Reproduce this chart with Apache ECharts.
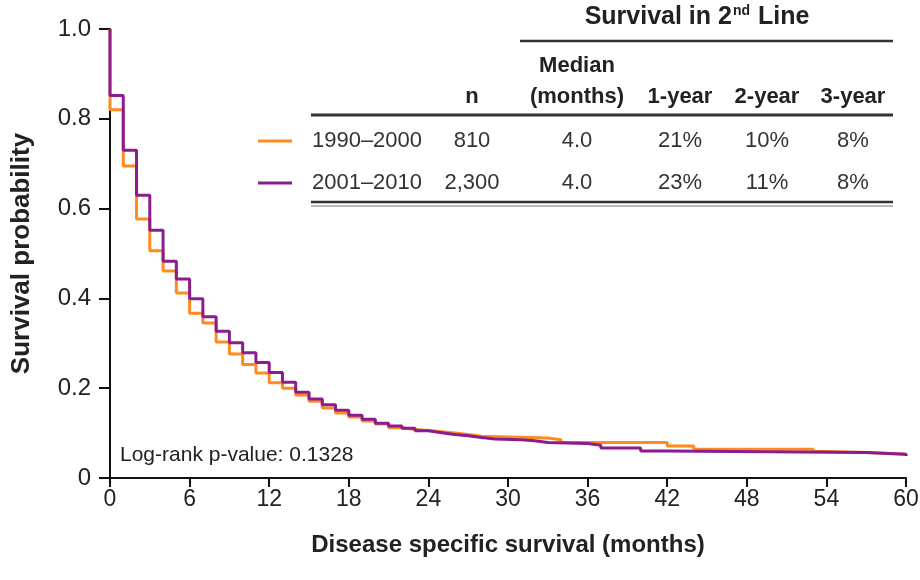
<!DOCTYPE html>
<html>
<head>
<meta charset="utf-8">
<script src="https://cdn.jsdelivr.net/npm/echarts@6/dist/echarts.min.js"></script>
<style>
  html, body { margin: 0; padding: 0; background: #fff; }
  #chart { width: 920px; height: 580px; }
</style>
</head>
<body>
<div id="chart"></div>
<script>
// Kaplan–Meier estimates, disease specific survival by period of diagnosis
const months1990 = [0, 0, 1, 2, 3, 4, 5, 6, 7, 8, 9, 10, 11, 12, 13, 14, 15, 16, 17, 18, 19, 20, 21, 22, 23, 24, 25, 26, 27, 28, 33, 34, 42, 44, 53, 54, 57, 60];
const surv1990   = [1.0, 0.82, 0.695, 0.577, 0.506, 0.461, 0.412, 0.367, 0.345, 0.303, 0.276, 0.253, 0.234, 0.212, 0.2, 0.185, 0.171, 0.156, 0.145, 0.136, 0.127, 0.12, 0.112, 0.108, 0.106, 0.103, 0.1, 0.097, 0.093, 0.089, 0.085, 0.079, 0.071, 0.064, 0.059, 0.057, 0.053, 0.049];

const months2001 = [0, 0, 1, 2, 3, 4, 5, 6, 7, 8, 9, 10, 11, 12, 13, 14, 15, 16, 17, 18, 19, 20, 21, 22, 23, 24, 25, 26, 27, 28, 29, 31, 32, 33, 36, 37, 40, 42, 57, 60];
const surv2001   = [1.0, 0.852, 0.73, 0.63, 0.552, 0.483, 0.443, 0.399, 0.359, 0.327, 0.301, 0.279, 0.257, 0.235, 0.213, 0.191, 0.176, 0.163, 0.151, 0.14, 0.131, 0.122, 0.116, 0.111, 0.105, 0.101, 0.097, 0.094, 0.09, 0.087, 0.085, 0.083, 0.079, 0.077, 0.073, 0.067, 0.06, 0.057, 0.053, 0.049];

const xTicks = [0, 6, 12, 18, 24, 30, 36, 42, 48, 54, 60];
const yTicks = [0, 0.2, 0.4, 0.6, 0.8, 1.0];

// Summary table
const periods     = ['1990–2000', '2001–2010'];
const nPatients   = ['810', '2,300'];
const medians     = ['4.0', '4.0'];
const oneYear     = ['21%', '23%'];
const twoYear     = ['10%', '11%'];
const threeYear   = ['8%', '8%'];
const colHeaders  = ['n', '(months)', '1-year', '2-year', '3-year'];
const pValueText  = 'Log-rank p-value: 0.1328';

const ORANGE = '#FF8A1F';
const PURPLE = '#8B1C90';
const FONT = "'Liberation Sans', Arial, sans-serif";
const INK = '#222';
const TABLE_INK = '#333';

function pairs(xs, ys) { return xs.map((x, i) => [x, ys[i]]); }

const chart = echarts.init(document.getElementById('chart'), null, { renderer: 'canvas' });

// table layout
const colX = [472, 577, 680, 767, 853];
const rowY = [141, 183];
const graphics = [];

function txt(x, y, text, opts) {
  graphics.push({
    type: 'text', x: x, y: y, z: 10,
    style: Object.assign({
      text: text, fill: TABLE_INK, font: '22px ' + FONT,
      textAlign: 'center', textVerticalAlign: 'middle'
    }, opts || {})
  });
}
function hline(x1, x2, y, w, color) {
  graphics.push({
    type: 'line', z: 10,
    shape: { x1: x1, y1: y, x2: x2, y2: y },
    style: { stroke: color || '#333', lineWidth: w }
  });
}

// header block
graphics.push({
  type: 'text', x: 697, y: 17, z: 10,
  style: {
    text: '{a|Survival in 2}{s|nd}{a| Line}',
    textAlign: 'center', textVerticalAlign: 'middle',
    rich: {
      a: { font: 'bold 25px ' + FONT, fill: INK },
      s: { font: 'bold 14px ' + FONT, fill: INK, verticalAlign: 'top', padding: [0, 1, 10, 1] }
    }
  }
});
hline(520, 893, 41, 2.5, '#333');
txt(colX[1], 66, 'Median', { font: 'bold 22px ' + FONT, fill: INK });
colHeaders.forEach((h, i) => txt(colX[i], 97, h, { font: 'bold 22px ' + FONT, fill: INK }));
hline(311, 893, 115, 3, '#333');

const rowColors = [ORANGE, PURPLE];
periods.forEach((p, r) => {
  const y = rowY[r];
  hline(258, 292, y, 3, rowColors[r]);
  txt(367, y, p);
  txt(colX[0], y, nPatients[r]);
  txt(colX[1], y, medians[r]);
  txt(colX[2], y, oneYear[r]);
  txt(colX[3], y, twoYear[r]);
  txt(colX[4], y, threeYear[r]);
});
hline(311, 893, 202, 2.5, '#333');
hline(311, 893, 206, 1, '#777');

txt(120, 455, pValueText, { textAlign: 'left', font: '21px ' + FONT, fill: INK });

chart.setOption({
  backgroundColor: '#fff',
  animation: false,
  grid: { left: 110, right: 14, top: 29, bottom: 102, outerBoundsMode: 'none', containLabel: false },
  xAxis: {
    type: 'value', min: 0, max: 60, interval: 6,
    name: 'Disease specific survival (months)',
    nameLocation: 'middle', nameGap: 55,
    nameTextStyle: { fontFamily: FONT, fontWeight: 'bold', fontSize: 24, color: INK },
    axisLine: { lineStyle: { color: '#111', width: 2 } },
    axisTick: { length: 9, lineStyle: { color: '#111', width: 2 } },
    axisLabel: {
      fontFamily: FONT, fontSize: 23, color: INK, margin: 10,
      formatter: v => xTicks.includes(v) ? String(v) : ''
    },
    splitLine: { show: false }
  },
  yAxis: {
    type: 'value', min: 0, max: 1, interval: 0.2,
    name: 'Survival probability',
    nameLocation: 'middle', nameGap: 75, nameRotate: 90,
    nameTextStyle: { fontFamily: FONT, fontWeight: 'bold', fontSize: 26, color: INK },
    axisLine: { show: true, lineStyle: { color: '#111', width: 2 } },
    axisTick: { show: true, length: 11, lineStyle: { color: '#111', width: 2 } },
    axisLabel: {
      fontFamily: FONT, fontSize: 24, color: INK, margin: 19,
      formatter: v => {
        const t = yTicks.find(k => Math.abs(k - v) < 1e-6);
        return t === undefined ? '' : (t === 0 ? '0' : t.toFixed(1));
      }
    },
    splitLine: { show: false }
  },
  series: [
    {
      name: '1990–2000', type: 'line', step: 'end', showSymbol: false,
      data: pairs(months1990, surv1990),
      lineStyle: { color: ORANGE, width: 3 }, itemStyle: { color: ORANGE }, z: 2
    },
    {
      name: '2001–2010', type: 'line', step: 'end', showSymbol: false,
      data: pairs(months2001, surv2001),
      lineStyle: { color: PURPLE, width: 3 }, itemStyle: { color: PURPLE }, z: 3
    }
  ],
  graphic: graphics
});
</script>
</body>
</html>
